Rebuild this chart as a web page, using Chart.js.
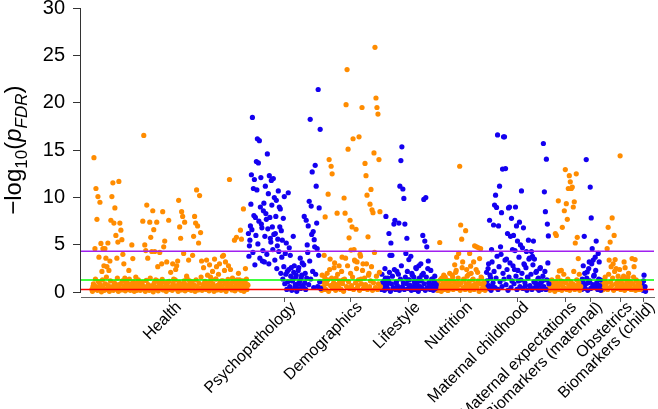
<!DOCTYPE html>
<html><head><meta charset="utf-8">
<script src="https://cdn.jsdelivr.net/npm/chart.js@4.4.1/dist/chart.umd.min.js"></script>
<style>html,body{margin:0;padding:0;background:#fff}#wrap{width:658px;height:409px}</style>
</head><body><div id="wrap"><canvas id="c" width="658" height="409"></canvas></div>
<script>
const categories = ["Health","Psychopathology","Demographics","Lifestyle","Nutrition","Maternal childhood","Maternal expectations","Biomarkers (maternal)","Obstetrics","Biomarkers (child)"];

// values read from the scattered (upper) part, in x order
const health = [0.3,0.6,14.2,4.6,10.95,7.7,10.1,3.7,9.5,5.15,
 2.2,4.6,2.8,4.6,3.6,2.7,5.2,2.3,3.3,7.6,
 10.1,11.55,7.3,8.9,6.0,3.6,5.3,11.7,7.3,6.55,
 5.55,4.0,3.0,1.5,0.6,1.1,0.3,2.3,0.8,0.5,
 5.0,3.55,0.9,0.4,1.6,0.2,0.7,1.0,0.3,0.6,
 0.8,7.5,16.55,5.0,4.4,9.2,3.6,0.5,7.4,5.8,
 4.3,8.6,6.6,4.3,1.3,7.4,2.7,0.4,4.2,1.0,
 3.0,8.5,4.8,5.4,0.6,3.2,1.1,7.6,0.4,2.1,
 0.3,3.0,1.4,0.6,2.4,2.8,3.3,9.7,6.9,5.7,
 8.5,8.0,4.1,7.4,0.8,1.7,0.5,3.4,1.2,0.3,
 0.4,3.9,5.9,8.0,7.3,10.8,7.0,5.2,10.2,6.3,
 3.3,0.5,2.6,1.0,0.5,3.4,1.8,0.4,2.9,1.6,
 0.7,2.2,0.4,3.5,1.4,2.7,0.6,1.9,3.0,0.5,
 1.2,3.8,3.9,2.3,3.2,1.0,0.8,2.8,11.9,2.4,
 0.6,1.5,0.4,5.5,1.1,5.8,0.7,2.0,1.3,6.55,
 5.6,1.2,8.8,0.6,2.5,1.4,0.8];
const psychopathology = [6.2,4.9,7.0,12.4,18.45,10.95,11.9,7.9,13.8,16.2,
 13.65,16.0,9.0,7.2,3.3,8.6,3.2,11.2,7.7,14.6,
 10.4,12.3,5.7,11.8,6.9,12.0,10.0,6.2,9.7,4.9,
 10.7,9.0,8.8,6.5,5.5,7.8,10.1,4.1,5.2,2.2,
 10.5,4.7,3.9,2.6,1.2,5.9,2.8,0.8,1.8,0.4,
 2.3,0.9,3.6,1.5,3.1,0.6,8.0,2.0,7.6,5.0,
 7.0,9.6,18.25,9.1,12.7,6.4,5.55,13.4,11.2,4.6,
 21.4,8.9,17.2];
const demographics = [0.5,1.8,0.3,3.9,7.95,1.2,2.0,10.35,14.0,3.5,
 13.3,12.5,0.8,2.6,0.4,1.5,8.35,0.6,2.8,1.0,
 0.3,3.7,1.3,9.95,8.35,19.8,23.5,15.1,5.75,7.6,
 4.45,6.9,16.2,4.5,3.3,6.65,3.2,0.7,16.4,4.0,
 1.4,19.5,3.0,0.5,13.6,12.3,10.25,5.85,2.0,9.3,
 10.85,8.7,8.4,14.7,25.85,20.5,19.5,18.8,14.0,8.5];
const lifestyle = [0.6,1.9,0.3,1.2,2.5,8.0,0.8,1.5,6.2,3.9,
 5.2,3.9,0.4,7.2,7.6,1.0,2.2,0.5,7.3,11.2,
 13.9,15.35,10.9,9.9,7.2,4.1,5.7,1.3,3.45,0.7,
 3.8,2.0,0.3,1.6,0.9,2.6,0.5,1.2,2.8,0.4,
 3.0,1.8,6.0,9.8,5.4,10.0,4.8,2.5,1.0,0.6,
 2.3,1.4,0.3,0.9,1.7,0.5];
const nutrition = [0.4,1.1,0.2,5.25,0.7,1.5,0.3,1.8,0.9,0.5,
 1.3,0.2,0.8,2.0,1.2,0.4,1.6,0.6,2.9,2.1,
 3.7,1.0,4.1,13.3,7.1,5.6,3.2,1.4,0.5,6.5,
 2.4,0.8,1.9,4.1,2.75,0.6,1.3,3.2,4.9,0.9,
 4.8,2.1,4.7,3.55,4.6,1.5,0.4,1.0,0.3];
const maternalChildhood = [0.8,2.1,0.4,3.0,7.6,1.5,4.5,0.6,7.1,9.2,
 10.25,8.95,16.6,7.0,11.2,4.8,8.4,13.0,16.4,16.4,
 13.05,3.5,6.2,8.9,9.0,5.9,7.8,4.5,6.0,2.4,
 9.0,7.0,5.4,1.2,7.4,5.0,10.7,4.7,6.8,2.9,
 0.7,4.3,1.6,5.5,3.6,0.5,4.3,3.8,5.4,3.5,
 1.0,2.2,0.4,1.5,0.8,2.6,0.3,1.2,15.7,10.6,
 8.5,14.05,7.2,5.95];
const maternalExpectations = [0.5,1.2,0.3,0.8,1.1,0.4,6.2,6.0,0.7,9.65,
 2.25,1.0,2.3,6.85,1.1,8.6,12.95,9.35,7.7,10.95,
 12.3,11.65,10.95,11.1,9.0,9.55,5.2,12.5,5.8,3.55,
 1.9,0.6];
const biomarkersMaternal = [0.6,1.4,2.8,5.9,0.4,14.0,2.15,1.0,3.2,11.1,
 7.85,4.6,3.4,1.8,3.7,5.4,0.8,4.1,3.2,1.3];
const obstetrics = [0.5,1.2,0.3,0.9,1.6,0.4,4.6,6.85,3.4,5.3,
 2.7,7.85,3.0,6.0,3.45,2.5,0.7,1.7,1.1,14.4,
 0.5,1.4,0.8,3.2,2.6,0.4,1.2,1.6,0.6,1.0,
 0.3,3.55,0.9,2.7,3.45,1.3,0.5,0.8,0.3,0.6];
const biomarkersChild = [0.4,1.0,0.2,1.8,0.6];

// values estimated from the dense lower band, in x order (interleaved with the above)
const healthBand = [0.1,0.9,0.3,1.4,0.6,0.2,1.1,0.4,0.8,0.05,
 1.3,0.5,0.2,0.9,1.6,0.3,0.7,0.1,1.2,0.4,
 0.6,0.2,1.0,0.35,0.8,1.5,0.1,0.5,0.9,0.25,
 1.2,0.4,0.7,0.15,1.0,0.55,0.3,1.4,0.2,0.85,
 0.45,1.1,0.1,0.6,0.95,0.3,1.3,0.5,0.2,0.75,
 1.05,0.35,0.6,0.1,1.25,0.45,0.8,0.2,1.5,0.4,
 0.7,0.05,1.0,0.3,0.55,1.2,0.15,0.9,0.4,0.65,
 1.35,0.25,0.5,1.0,0.1,0.8,0.45,1.15,0.3,0.6,
 0.2,0.95,0.5,1.3,0.35,0.7,0.1,1.05,0.55,0.25,
 0.85,0.4,1.2,0.15,0.65,1.45,0.3,0.5,0.9,0.2,
 1.1,0.45,0.75,0.1,1.3,0.6,0.25,0.95,0.4,1.6,
 0.2,0.8,0.5,1.15,0.3,0.7,1.0,0.15,0.55,1.25,
 0.35,0.9,0.1,0.6,1.4,0.25,0.75,0.45,1.05,0.2,
 0.65,1.2,0.3,0.85,0.1,0.5,1.35,0.4,0.7,0.95,
 0.25,1.1,0.55,0.15,0.8,1.3,0.35,0.6,1.0,0.2,
 0.45,0.9,0.1,1.2,0.6,0.3,0.75];
const psychopathologyBand = [3.8,5.5,9.3,6.6,4.2,8.1,2.9,6.0,10.8,5.1,
 7.5,3.6,12.1,6.8,4.4,9.4,5.9,8.3,4.0,6.7,
 3.0,7.9,5.3,9.2,4.5,6.1,3.4,8.0,2.5,5.6,
 4.3,6.9,2.0,3.7,1.4,2.7,0.9,1.9,0.3,1.1,
 2.4,0.6,1.7,0.2,1.3,2.1,0.5,1.6,0.1,0.9,
 2.6,1.2,0.4,1.8,0.7,2.9,1.0,0.3,1.5,4.2,
 0.8,3.3,1.4,6.1,2.2,0.5,4.8,1.9,7.3,0.6,
 3.9,1.1,0.4];
const demographicsBand = [0.2,1.1,0.6,1.6,0.3,0.9,1.3,0.1,2.4,0.7,
 1.5,0.4,1.0,3.1,0.2,0.8,1.9,0.5,1.2,0.3,
 2.2,0.9,0.1,1.4,3.6,0.6,2.8,1.1,0.4,2.0,
 0.7,1.6,0.3,3.4,1.0,2.5,0.5,1.3,0.2,3.8,
 0.9,2.3,0.4,1.5,0.8,3.0,0.3,1.8,0.6,1.2,
 2.7,0.2,1.0,4.2,0.5,1.7,0.3,0.9,2.1,0.6];
const lifestyleBand = [0.3,1.0,0.6,0.2,1.5,0.8,0.4,1.2,2.1,0.1,
 0.9,1.7,0.5,2.4,0.3,1.1,0.7,1.9,0.2,1.4,
 2.8,0.6,1.0,0.3,1.6,0.9,2.2,0.4,1.3,0.7,
 0.2,1.8,0.5,1.1,0.3,2.5,0.8,0.1,1.5,0.6,
 1.2,0.4,2.0,0.9,0.2,1.6,0.5,3.3,1.0,0.3,
 0.7,1.4,0.2,1.1,0.4,0.8];
const nutritionBand = [0.2,0.8,0.5,1.3,0.1,0.6,1.0,0.3,1.6,0.4,
 0.9,0.2,1.2,0.5,0.7,1.8,0.3,1.1,0.6,2.3,
 0.4,1.5,0.8,0.2,1.0,2.6,0.5,1.3,0.3,0.9,
 1.7,0.4,1.1,0.2,2.0,0.7,1.4,0.3,0.8,2.4,
 0.5,1.2,0.1,0.9,1.6,0.3,0.6,1.0,0.2];
const maternalChildhoodBand = [0.4,1.2,2.5,0.7,1.8,0.2,3.2,1.0,2.2,0.5,
 1.5,3.8,0.3,2.7,1.1,4.0,0.6,2.0,1.4,3.4,
 0.8,2.4,0.2,1.6,3.1,0.5,1.2,2.8,0.9,4.4,
 1.7,0.3,2.3,3.7,0.6,1.3,2.0,0.4,3.0,1.0,
 2.6,0.2,1.5,3.5,0.7,1.9,0.3,2.9,1.1,0.5,
 2.1,0.8,1.4,0.2,2.5,1.0,0.4,1.7,0.6,2.2,
 0.3,1.3,3.1,0.9];
const maternalExpectationsBand = [0.2,0.7,1.3,0.4,0.9,0.1,1.1,0.5,1.6,0.3,
 0.8,1.2,0.2,0.6,1.9,0.4,1.0,0.3,1.4,0.7,
 0.2,1.1,0.5,0.9,2.2,0.3,0.7,1.3,0.4,1.0,
 0.2,0.6];
const biomarkersMaternalBand = [0.3,1.1,0.6,2.0,0.9,1.5,0.2,2.5,1.2,0.4,
 3.0,0.8,1.7,0.5,2.3,1.0,0.3,1.4,0.7,0.2];
const obstetricsBand = [0.2,0.8,0.4,1.3,0.6,1.0,0.3,1.9,0.5,1.1,
 0.7,1.5,0.2,2.2,0.9,0.4,1.2,0.6,2.4,0.3,
 1.0,0.5,1.7,0.2,0.8,1.3,0.4,2.0,0.6,1.1,
 0.3,0.9,1.6,0.5,0.2,1.2,0.7,0.4,1.0,0.3];
const biomarkersChildBand = [0.8,0.3,1.2,0.5,0.1];

const seriesValues = [health, psychopathology, demographics, lifestyle, nutrition,
  maternalChildhood, maternalExpectations, biomarkersMaternal, obstetrics, biomarkersChild];
const bandValues = [healthBand, psychopathologyBand, demographicsBand, lifestyleBand, nutritionBand,
  maternalChildhoodBand, maternalExpectationsBand, biomarkersMaternalBand, obstetricsBand, biomarkersChildBand];

const yTickValues = [0,5,10,15,20,25,30];
const thresholds = [4.33, 1.30, 0.30];

// ---- build ----
const ORANGE = '#FF8C00', BLUE = '#1400F0';
const lineColors = ['#A020F0', '#00FF00', '#FF0000'];
const X_MIN = -11, X_MAX = 564;

const datasets = [];
const centers = [];
let idx = 0;
seriesValues.forEach((vals, ci) => {
  const col = ci % 2 === 0 ? ORANGE : BLUE;
  const pts = vals.map((v, k) => ({x: idx + k, y: v}))
    .concat(bandValues[ci].map((v, k) => ({x: idx + k + 0.5, y: v})));
  datasets.push({
    type: 'scatter', label: categories[ci], data: pts,
    backgroundColor: col, borderWidth: 0, pointRadius: 2.6, order: 1
  });
  centers.push(idx + (vals.length - 1) / 2 + 0.25);
  idx += vals.length;
});
thresholds.forEach((t, i) => {
  datasets.push({
    type: 'line', label: 'threshold' + i,
    data: [{x: X_MIN, y: t}, {x: X_MAX, y: t}],
    borderColor: lineColors[i], borderWidth: 1.5, pointRadius: 0, fill: false, order: 0
  });
});

const FONT = '"Liberation Sans", Arial, Helvetica, sans-serif';

const deco = {
  id: 'deco',
  afterDraw(chart) {
    const ctx = chart.ctx, ys = chart.scales.y, a = chart.chartArea;
    ctx.save();
    ctx.strokeStyle = '#333';
    ctx.lineWidth = 1;
    const xl = Math.round(a.left) - 0.5;
    ctx.beginPath();
    ctx.moveTo(xl, ys.getPixelForValue(yTickValues[0]));
    ctx.lineTo(xl, ys.getPixelForValue(yTickValues[yTickValues.length - 1]));
    ctx.stroke();
    const cy = (ys.getPixelForValue(0) + ys.getPixelForValue(30)) / 2;
    ctx.translate(21, cy);
    ctx.rotate(-Math.PI / 2);
    const parts = [
      {t: '\u2212log', f: '24px ' + FONT, dy: 0},
      {t: '10', f: '17px ' + FONT, dy: 6},
      {t: '(', f: '24px ' + FONT, dy: 0},
      {t: 'p', f: 'italic 24px ' + FONT, dy: 0},
      {t: 'FDR', f: 'italic 17px ' + FONT, dy: 6},
      {t: ')', f: '24px ' + FONT, dy: 0}
    ];
    let w = 0;
    parts.forEach(p => { ctx.font = p.f; p.w = ctx.measureText(p.t).width; w += p.w; });
    let x = -w / 2;
    ctx.fillStyle = '#000';
    ctx.textBaseline = 'alphabetic';
    parts.forEach(p => { ctx.font = p.f; ctx.fillText(p.t, x, p.dy); x += p.w; });
    ctx.restore();
  }
};

new Chart(document.getElementById('c'), {
  data: {datasets},
  options: {
    responsive: false, animation: false, devicePixelRatio: 1, events: [],
    layout: {padding: {top: 8, right: 2, left: 0, bottom: 0}},
    plugins: {legend: {display: false}, tooltip: {enabled: false}},
    scales: {
      x: {
        type: 'linear', min: X_MIN, max: X_MAX,
        afterBuildTicks: s => { s.ticks = centers.map(v => ({value: v})); },
        afterFit: s => { s.height = 112; s.paddingLeft = 0; s.paddingRight = 0; },
        ticks: {
          autoSkip: false, minRotation: 45, maxRotation: 45, padding: -4, labelOffset: 9,
          color: '#000', font: {family: FONT, size: 16},
          callback: (v, i) => categories[i]
        },
        grid: {display: true, drawOnChartArea: false, drawTicks: true, tickLength: 5, color: '#555'},
        border: {display: true, color: '#666', width: 1}
      },
      y: {
        type: 'linear', min: -0.5, max: 30,
        afterBuildTicks: s => { s.ticks = yTickValues.map(v => ({value: v})); },
        afterFit: s => { s.width = 81; s.paddingTop = 0; s.paddingBottom = 0; },
        ticks: {color: '#000', padding: 8, font: {family: FONT, size: 20}},
        grid: {display: true, drawOnChartArea: false, drawTicks: true, tickLength: 8, color: '#333'},
        border: {display: false}
      }
    }
  },
  plugins: [deco]
});
</script></body></html>
